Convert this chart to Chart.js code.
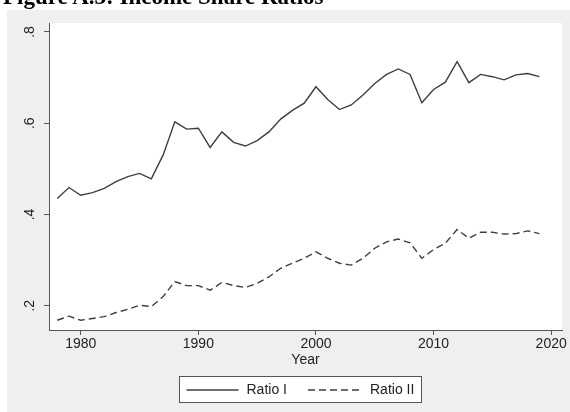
<!DOCTYPE html>
<html><head><meta charset="utf-8">
<script src="https://cdn.jsdelivr.net/npm/chart.js@4.4.1/dist/chart.umd.min.js"></script>
<style>
html,body{margin:0;padding:0;background:#fff;overflow:hidden;}
#wrap{position:relative;width:570px;height:412px;}
#title{position:absolute;left:3px;top:-15px;font:bold 23px/23px "Liberation Serif","Times New Roman",serif;color:#000;white-space:nowrap;z-index:2;}
canvas{position:absolute;left:0;top:0;}
</style></head><body>
<div id="wrap"><div id="title">Figure A.3: Income Share Ratios</div><canvas id="c" width="570" height="412"></canvas></div>
<script>
const years = [1978,1979,1980,1981,1982,1983,1984,1985,1986,1987,1988,1989,1990,1991,1992,1993,1994,1995,1996,1997,1998,1999,2000,2001,2002,2003,2004,2005,2006,2007,2008,2009,2010,2011,2012,2013,2014,2015,2016,2017,2018,2019];
const ratioI = [0.435,0.459,0.442,0.448,0.457,0.472,0.483,0.490,0.478,0.530,0.603,0.587,0.589,0.547,0.581,0.558,0.550,0.562,0.581,0.609,0.628,0.644,0.680,0.652,0.630,0.640,0.662,0.687,0.707,0.719,0.707,0.645,0.674,0.690,0.735,0.689,0.707,0.702,0.695,0.706,0.709,0.702];
const ratioII = [0.168,0.177,0.168,0.172,0.176,0.185,0.192,0.201,0.198,0.220,0.253,0.244,0.244,0.234,0.251,0.244,0.240,0.249,0.263,0.282,0.293,0.304,0.318,0.304,0.293,0.289,0.304,0.326,0.340,0.346,0.338,0.304,0.323,0.337,0.367,0.348,0.361,0.361,0.357,0.358,0.364,0.358];
const seriesNames = ['Ratio I', 'Ratio II'];
const xTicks = [1980, 1990, 2000, 2010, 2020];
const yTicks = [0.2, 0.4, 0.6, 0.8];
const yTickLabels = ['.2', '.4', '.6', '.8'];
const xTitle = 'Year';

Chart.defaults.font.family = '"Liberation Sans", Arial, sans-serif';
Chart.defaults.font.size = 14;
Chart.defaults.color = '#222';

const lineColor = '#3f3f3f';
const axisColor = '#555';

const bgPlugin = {
  id: 'bg',
  beforeDraw(chart) {
    const {ctx, chartArea} = chart;
    ctx.save();
    ctx.fillStyle = '#efefef';
    ctx.fillRect(7, 10, 563, 402);
    ctx.fillStyle = '#ffffff';
    ctx.fillRect(chartArea.left, chartArea.top, chartArea.right - chartArea.left, chartArea.bottom - chartArea.top);
    ctx.restore();
  }
};

const legendPlugin = {
  id: 'boxLegend',
  afterDraw(chart) {
    const {ctx} = chart;
    ctx.save();
    ctx.fillStyle = '#fff';
    ctx.strokeStyle = axisColor;
    ctx.lineWidth = 1;
    ctx.fillRect(179.5, 376.5, 242, 26);
    ctx.strokeRect(179.5, 376.5, 242, 26);
    const items = [{lx: 186.5, tx: 246.5}, {lx: 308, tx: 370}];
    const cy = 390;
    chart.data.datasets.forEach((ds, i) => {
      const it = items[i];
      ctx.beginPath();
      ctx.setLineDash(ds.borderDash || []);
      ctx.strokeStyle = ds.borderColor;
      ctx.lineWidth = ds.borderWidth;
      ctx.moveTo(it.lx, cy);
      ctx.lineTo(it.lx + 52, cy);
      ctx.stroke();
      ctx.setLineDash([]);
      ctx.fillStyle = '#222';
      ctx.font = '14px "Liberation Sans", Arial, sans-serif';
      ctx.textAlign = 'left';
      ctx.textBaseline = 'middle';
      ctx.fillText(ds.label, it.tx, cy);
    });
    ctx.restore();
  }
};

new Chart(document.getElementById('c'), {
  type: 'line',
  data: {
    datasets: [
      {label: seriesNames[0], data: ratioI.map((v, i) => ({x: years[i], y: v})), borderColor: lineColor, borderWidth: 1.4, pointRadius: 0, tension: 0, fill: false},
      {label: seriesNames[1], data: ratioII.map((v, i) => ({x: years[i], y: v})), borderColor: lineColor, borderWidth: 1.4, borderDash: [7, 4], pointRadius: 0, tension: 0, fill: false}
    ]
  },
  options: {
    responsive: false,
    animation: false,
    devicePixelRatio: 1,
    layout: {padding: {left: 7, right: 8, top: 23, bottom: 43.6}},
    plugins: {legend: {display: false}, tooltip: {enabled: false}},
    scales: {
      x: {
        type: 'linear', min: 1977.3, max: 2020.92,
        afterBuildTicks: s => { s.ticks = xTicks.map(v => ({value: v})); },
        ticks: {callback: v => String(v), padding: 1, maxRotation: 0, autoSkip: false, color: '#222'},
        grid: {display: true, drawOnChartArea: false, drawTicks: true, tickLength: 5, tickColor: axisColor},
        border: {display: true, color: axisColor, width: 1},
        title: {display: true, text: xTitle, padding: 0, color: '#222'},
        afterFit: s => { s.height = 38.4; }
      },
      y: {
        type: 'linear', min: 0.1467, max: 0.8197,
        afterBuildTicks: s => { s.ticks = yTicks.map(v => ({value: v})); },
        ticks: {callback: (v) => yTickLabels[yTicks.findIndex(t => Math.abs(t - v) < 1e-9)], minRotation: 90, maxRotation: 90, crossAlign: 'center', padding: 8, autoSkip: false, color: '#222'},
        grid: {display: true, drawOnChartArea: false, drawTicks: true, tickLength: 5, tickColor: axisColor},
        border: {display: true, color: axisColor, width: 1},
        afterFit: s => { s.width = 42; }
      }
    }
  },
  plugins: [bgPlugin, legendPlugin]
});
</script>
</body></html>
